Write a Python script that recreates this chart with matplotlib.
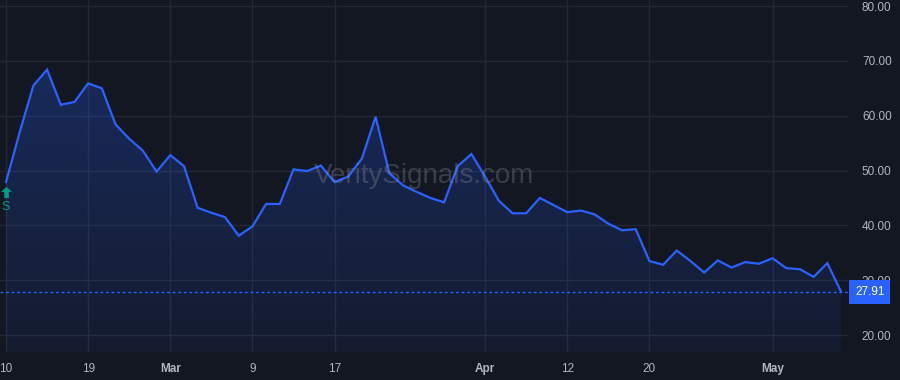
import numpy as np
import matplotlib
matplotlib.use("Agg")
import matplotlib.pyplot as plt
from matplotlib.colors import LinearSegmentedColormap
from matplotlib.path import Path
from matplotlib.transforms import offset_copy, blended_transform_factory

# Valores (um ponto por pregão)
precos = [47.9, 57.0, 65.5, 68.4, 62.0, 62.5, 65.9, 65.0, 58.4, 55.8,
          53.6, 49.8, 52.8, 50.8, 43.2, 42.3, 41.5, 38.1, 39.8, 43.9,
          43.9, 50.2, 49.9, 50.9, 47.9, 48.9, 52.2, 59.8, 49.5, 47.3,
          46.1, 45.0, 44.2, 50.8, 53.0, 48.9, 44.5, 42.2, 42.2, 45.0,
          43.7, 42.4, 42.7, 42.0, 40.3, 39.1, 39.3, 33.5, 32.8, 35.4,
          33.5, 31.4, 33.6, 32.3, 33.3, 33.0, 34.0, 32.2, 32.0, 30.6,
          33.1, 27.91]
rotulos_x = ["10", "19", "Mar", "9", "17", "Apr", "12", "20", "May"]
posicoes_x = [0, 6, 12, 18, 24, 35, 41, 47, 56]
meses = ["Mar", "Apr", "May"]
ticks_y = [20, 30, 40, 50, 60, 70, 80]
ultimo = precos[-1]

fundo = "#131722"
azul = "#2962ff"
verde = "#089981"
cinza = "#b2b5be"

plt.rcParams["font.family"] = ["Liberation Sans", "DejaVu Sans"]

fig = plt.figure(figsize=(9, 3.8), dpi=100, facecolor=fundo)
ax = fig.add_axes([0, 28 / 380, 848 / 900, 352 / 380])
ax.set_facecolor(fundo)

x = np.arange(len(precos))
y = np.array(precos)

# Grade
for v in ticks_y:
    ax.axhline(v, color="#242834", lw=1, zorder=0)
for p in posicoes_x:
    ax.axvline(p, color="#242834", lw=1, zorder=0)

# Área com gradiente
poly = ax.fill_between(x, y, 16.9, color="none", lw=0)
cmap = LinearSegmentedColormap.from_list(
    "grad", [(41 / 255, 98 / 255, 255 / 255, 0.06), (41 / 255, 98 / 255, 255 / 255, 0.26)])
grad = np.linspace(0, 1, 256).reshape(-1, 1)
img = ax.imshow(grad, cmap=cmap, aspect="auto", origin="lower",
                extent=[x[0], x[-1], 16.9, y.max()], zorder=1)
img.set_clip_path(poly.get_paths()[0], transform=ax.transData)
ax.set_xlim(-0.44, 61.51)
ax.set_ylim(16.9, 81.1)

# Linha de preço
ax.plot(x, y, color=azul, lw=1.6, zorder=3, solid_joinstyle="miter")
ax.axhline(ultimo, color=azul, lw=1, ls=(0, (2, 2)), zorder=2)

# Marca d'água
ax.text(0.5, 0.5, "VeritySignals.com", transform=ax.transAxes, ha="center", va="center",
        fontsize=20, color="#9598a1", alpha=0.3, zorder=4)

# Sinal "S" (seta para cima + letra)
seta = Path([(0, 1), (1, 0.1), (0.42, 0.1), (0.42, -1), (-0.42, -1), (-0.42, 0.1), (-1, 0.1), (0, 1)],
            [Path.MOVETO] + [Path.LINETO] * 6 + [Path.CLOSEPOLY])
t_seta = offset_copy(ax.transData, fig=fig, x=0, y=-10, units="dots")
ax.plot([0], [precos[0]], transform=t_seta, marker=seta, ms=8, color=verde, mew=0,
        ls="none", zorder=5, clip_on=False)
t_s = offset_copy(ax.transData, fig=fig, x=0, y=-25, units="dots")
ax.text(0, precos[0], "S", transform=t_s, ha="center", va="center", fontsize=9, color=verde)

# Eixos
for s in ax.spines.values():
    s.set_visible(False)
ax.yaxis.tick_right()
ax.set_yticks(ticks_y)
ax.set_yticklabels([f"{v:.2f}" for v in ticks_y])
ax.set_xticks(posicoes_x)
ax.set_xticklabels(rotulos_x)
for lbl in ax.get_xticklabels():
    if lbl.get_text() in meses:
        lbl.set_fontweight("bold")
ax.tick_params(axis="y", length=0, pad=10, labelsize=8.5, labelcolor=cinza)
ax.tick_params(axis="x", length=0, pad=8, labelsize=8.5, labelcolor=cinza)

# Etiqueta do último preço
t_tag = offset_copy(blended_transform_factory(ax.transAxes, ax.transData), fig=fig, x=7, y=0, units="dots")
ax.text(1.0, ultimo, f"{ultimo:.2f}", transform=t_tag, ha="left", va="center", fontsize=8.5,
        color="white", clip_on=False, zorder=10,
        bbox=dict(boxstyle="square,pad=0.5", fc=azul, ec="none"))

fig.savefig("out.png", dpi=100, facecolor=fundo)
